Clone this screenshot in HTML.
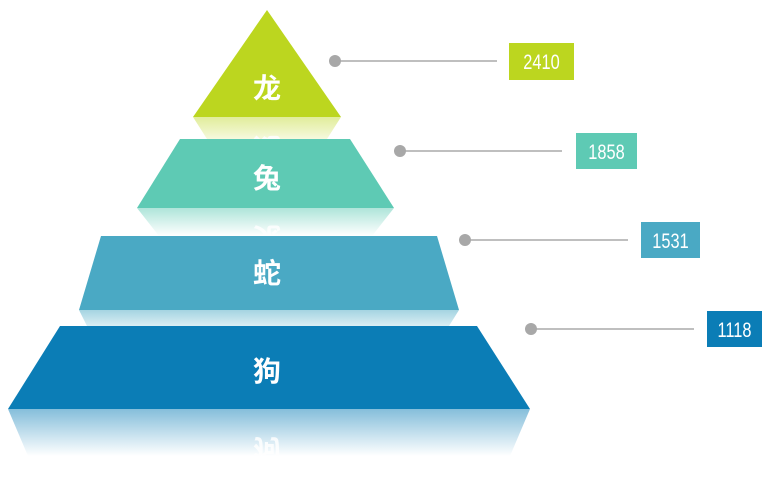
<!DOCTYPE html>
<html><head><meta charset="utf-8"><style>
html,body{margin:0;padding:0;background:#fff;width:768px;height:477px;overflow:hidden}
text{font-family:"Liberation Sans","Noto Sans CJK SC",sans-serif}
</style></head><body>
<svg width="768" height="477" viewBox="0 0 768 477" xmlns="http://www.w3.org/2000/svg">
<defs>
<linearGradient id="g1" x1="0" y1="0" x2="0" y2="1"><stop offset="0" stop-color="#bcd61f" stop-opacity="0.45"/><stop offset="1" stop-color="#bcd61f" stop-opacity="0.15"/></linearGradient>
<linearGradient id="g2" x1="0" y1="0" x2="0" y2="1"><stop offset="0" stop-color="#5ecab4" stop-opacity="0.5"/><stop offset="1" stop-color="#5ecab4" stop-opacity="0"/></linearGradient>
<linearGradient id="g3" x1="0" y1="0" x2="0" y2="1"><stop offset="0" stop-color="#4aa9c4" stop-opacity="0.5"/><stop offset="1" stop-color="#4aa9c4" stop-opacity="0.2"/></linearGradient>
<linearGradient id="g4" x1="0" y1="0" x2="0" y2="1"><stop offset="0" stop-color="#0b7db6" stop-opacity="0.5"/><stop offset="1" stop-color="#0b7db6" stop-opacity="0"/></linearGradient>
</defs>
<polygon points="193,117 341,117 327,139 207,139" fill="url(#g1)"/>
<polygon points="137,208 394,208 372,236 159,236" fill="url(#g2)"/>
<polygon points="79,310 459,310 449,326 87,326" fill="url(#g3)"/>
<polygon points="8,409 530,409 510,456 28,456" fill="url(#g4)"/>
<g font-size="28" font-weight="bold" fill="#fff" text-anchor="middle" opacity="0.85">
<text transform="translate(267,120) scale(1,-1)" y="-18">龙</text>
<text transform="translate(267,210) scale(1,-1)" y="-18">兔</text>
<text transform="translate(267,412) scale(1,-1)" y="-28">狗</text>
</g>
<polygon points="267,10 341,117 193,117" fill="#bcd61f"/>
<polygon points="180,139 350,139 394,208 137,208" fill="#5ecab4"/>
<polygon points="101,236 437,236 459,310 79,310" fill="#4aa9c4"/>
<polygon points="60,326 477,326 530,409 8,409" fill="#0b7db6"/>
<g font-size="28" font-weight="bold" fill="#fff" text-anchor="middle">
<text x="267" y="98">龙</text>
<text x="267" y="188">兔</text>
<text x="267" y="283">蛇</text>
<text x="267" y="381">狗</text>
</g>
<g stroke="#aaa" stroke-width="1.5">
<line x1="335" y1="61" x2="497" y2="61"/>
<line x1="400" y1="151" x2="562" y2="151"/>
<line x1="465" y1="240" x2="628" y2="240"/>
<line x1="531" y1="329" x2="694" y2="329"/>
</g>
<g fill="#a8a8a8">
<circle cx="335" cy="61" r="6"/><circle cx="400" cy="151" r="6"/><circle cx="465" cy="240" r="6"/><circle cx="531" cy="329" r="6"/>
</g>
<rect x="509" y="43" width="65" height="37" fill="#bcd61f"/>
<rect x="576" y="133" width="61" height="36" fill="#5ecab4"/>
<rect x="641" y="222" width="59" height="36" fill="#4aa9c4"/>
<rect x="707" y="311" width="55" height="36" fill="#0b7db6"/>
<g font-size="21" fill="#fff" text-anchor="middle">
<text transform="translate(541.5,69) scale(0.78,1)">2410</text>
<text transform="translate(606.5,159) scale(0.78,1)">1858</text>
<text transform="translate(670.5,248) scale(0.78,1)">1531</text>
<text transform="translate(734.5,337) scale(0.78,1)">1118</text>
</g>
</svg>
</body></html>
